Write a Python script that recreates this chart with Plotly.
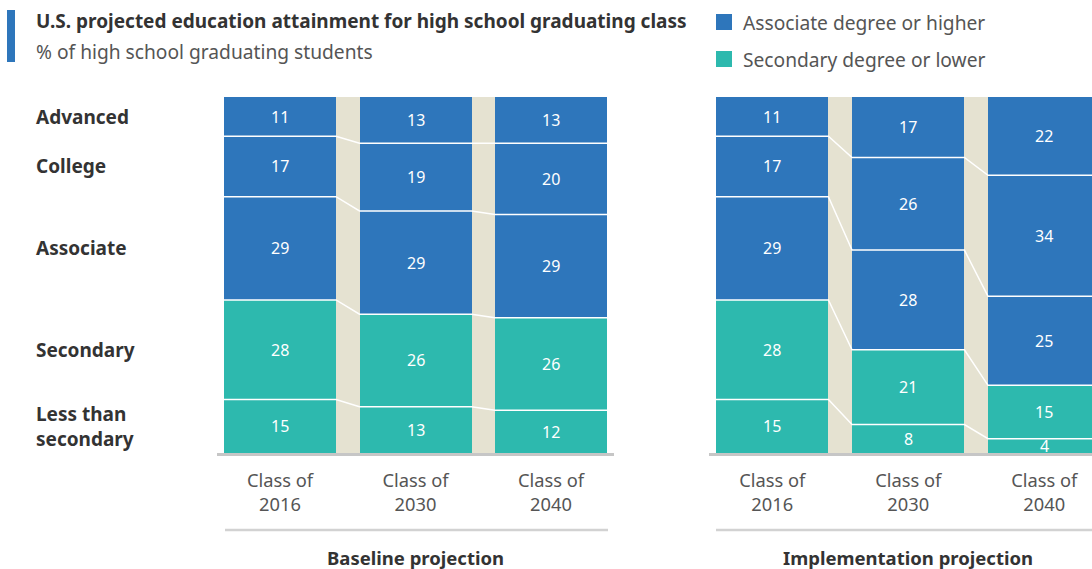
import plotly.graph_objects as go

# ---------------- data ----------------
classes = ["Class of<br>2016", "Class of<br>2030", "Class of<br>2040"]
levels = ["Less than<br>secondary", "Secondary", "Associate", "College", "Advanced"]  # bottom -> top

baseline_less = [15, 13, 12]
baseline_secondary = [28, 26, 26]
baseline_associate = [29, 29, 29]
baseline_college = [17, 19, 20]
baseline_advanced = [11, 13, 13]

impl_less = [15, 8, 4]
impl_secondary = [28, 21, 15]
impl_associate = [29, 28, 25]
impl_college = [17, 26, 34]
impl_advanced = [11, 17, 22]

panel_titles = ["Baseline projection", "Implementation projection"]
legend_labels = ["Associate degree or higher", "Secondary degree or lower"]
title = "U.S. projected education attainment for high school graduating class"
subtitle = "% of high school graduating students"

# ---------------- style ----------------
W, H = 1092, 569
BLUE = "#2E76BB"
TEAL = "#2DB9AE"
BEIGE = "#E5E2D1"
DARK = "#333333"
GREY = "#555555"
FONT = "Noto Sans"
BAR_W = 112 / 135.5

level_colors = [TEAL, TEAL, BLUE, BLUE, BLUE]

panels = [
    [baseline_less, baseline_secondary, baseline_associate, baseline_college, baseline_advanced],
    [impl_less, impl_secondary, impl_associate, impl_college, impl_advanced],
]

def px_x(x):
    return x / W

def px_y(y):
    return 1 - y / H

fig = go.Figure()
xpos = list(range(len(classes)))

for p, series in enumerate(panels):
    xa = "x" if p == 0 else "x2"
    ya = "y" if p == 0 else "y2"
    for lvl, vals in enumerate(series):
        fig.add_trace(go.Bar(
            x=xpos, y=vals, width=BAR_W, xaxis=xa, yaxis=ya,
            marker=dict(color=level_colors[lvl], line=dict(width=0)),
            showlegend=False, hoverinfo="skip",
        ))
    # connector lines at cumulative boundaries + value labels
    cum = [0] * len(classes)
    for lvl in range(len(series)):
        vals = series[lvl]
        for i in xpos:
            fig.add_annotation(x=i, y=cum[i] + vals[i] / 2, xref=xa, yref=ya,
                               text=str(vals[i]), showarrow=False,
                               xanchor="center", yanchor="middle",
                               font=dict(color="white", size=16, family=FONT))
        cum = [c + v for c, v in zip(cum, vals)]
        if lvl == len(series) - 1:
            break
        lx, ly = [], []
        for i in xpos:
            lx += [i - BAR_W / 2, i + BAR_W / 2]
            ly += [cum[i], cum[i]]
        fig.add_trace(go.Scatter(
            x=lx, y=ly, mode="lines", xaxis=xa, yaxis=ya,
            line=dict(color="white", width=1.5),
            showlegend=False, hoverinfo="skip",
        ))

# axes
y_dom = [px_y(453), px_y(97)]
left_dom = [px_x(224), px_x(607)]
right_dom = [px_x(716), 1.0]
spacing = 136.0
common_x = dict(tickvals=xpos, ticktext=classes, showgrid=False, zeroline=False,
                showline=False, ticks="", tickfont=dict(size=18.3, color=GREY, family=FONT),
                ticklabelstandoff=15, fixedrange=True)
fig.update_layout(
    xaxis=dict(domain=left_dom, range=[-BAR_W / 2, 2 + BAR_W / 2], anchor="y", **common_x),
    xaxis2=dict(domain=right_dom,
                range=[-BAR_W / 2, -BAR_W / 2 + (W - 716) / spacing],
                anchor="y2", **common_x),
    yaxis=dict(domain=y_dom, range=[0, 100], visible=False, fixedrange=True),
    yaxis2=dict(domain=y_dom, range=[0, 100], visible=False, fixedrange=True),
)

# row labels (centres of first class in baseline)
cum = 0
for lvl, vals in enumerate(panels[0]):
    centre = cum + vals[0] / 2
    cum += vals[0]
    fig.add_annotation(x=px_x(34), xref="paper", y=centre, yref="y", text="<b>%s</b>" % levels[lvl],
                       xanchor="left", yanchor="middle", align="left", showarrow=False,
                       font=dict(size=19, color=DARK, family=FONT))

# panel titles
for p, t in enumerate(panel_titles):
    cx = (280 + 551) / 2 if p == 0 else (772 + 1044) / 2
    fig.add_annotation(x=px_x(cx), xref="paper", y=px_y(557), yref="paper", text="<b>%s</b>" % t,
                       xanchor="center", yanchor="middle", showarrow=False,
                       font=dict(size=18.5, color=DARK, family=FONT))

# title
fig.add_annotation(x=px_x(34), xref="paper", y=px_y(21), yref="paper", text="<b>%s</b>" % title,
                   xanchor="left", yanchor="middle", showarrow=False,
                   font=dict(size=19, color=DARK, family=FONT))
fig.add_annotation(x=px_x(34), xref="paper", y=px_y(51), yref="paper", text=subtitle,
                   xanchor="left", yanchor="middle", showarrow=False,
                   font=dict(size=19.2, color=GREY, family=FONT))

# legend
for i, (lab, col) in enumerate(zip(legend_labels, [BLUE, TEAL])):
    yc = 22 + i * 37
    fig.add_shape(type="rect", xref="paper", yref="paper", x0=px_x(716), x1=px_x(732),
                  y0=px_y(yc - 8), y1=px_y(yc + 8), fillcolor=col, line=dict(width=0))
    fig.add_annotation(x=px_x(741), xref="paper", y=px_y(yc + 0.5), yref="paper", text=lab,
                       xanchor="left", yanchor="middle", showarrow=False,
                       font=dict(size=19.2, color=GREY, family=FONT))

shapes = [
    # title accent bar
    dict(type="rect", x0=px_x(7), x1=px_x(15), y0=px_y(10), y1=px_y(62), fillcolor=BLUE),
    # baselines
    dict(type="line", x0=px_x(217), x1=px_x(614), y0=px_y(454.5), y1=px_y(454.5), line=dict(color="#C6C6C6", width=3)),
    dict(type="line", x0=px_x(709), x1=1.0, y0=px_y(454.5), y1=px_y(454.5), line=dict(color="#C6C6C6", width=3)),
    # bottom rules
    dict(type="line", x0=px_x(225), x1=px_x(608), y0=px_y(530), y1=px_y(530), line=dict(color="#D2D2D2", width=2.5)),
    dict(type="line", x0=px_x(716), x1=1.0, y0=px_y(530), y1=px_y(530), line=dict(color="#D2D2D2", width=2.5)),
]
for s in shapes:
    s.update(xref="paper", yref="paper")
    if s["type"] == "rect":
        s["line"] = dict(width=0)
    fig.add_shape(**s)

fig.update_layout(
    width=W, height=H, margin=dict(l=0, r=0, t=0, b=0),
    barmode="stack", plot_bgcolor=BEIGE, paper_bgcolor="white",
    font=dict(family=FONT),
)

fig.write_html("out.html", config={"displayModeBar": False},
               post_script="document.body.style.margin='0';document.body.style.overflow='hidden';")
